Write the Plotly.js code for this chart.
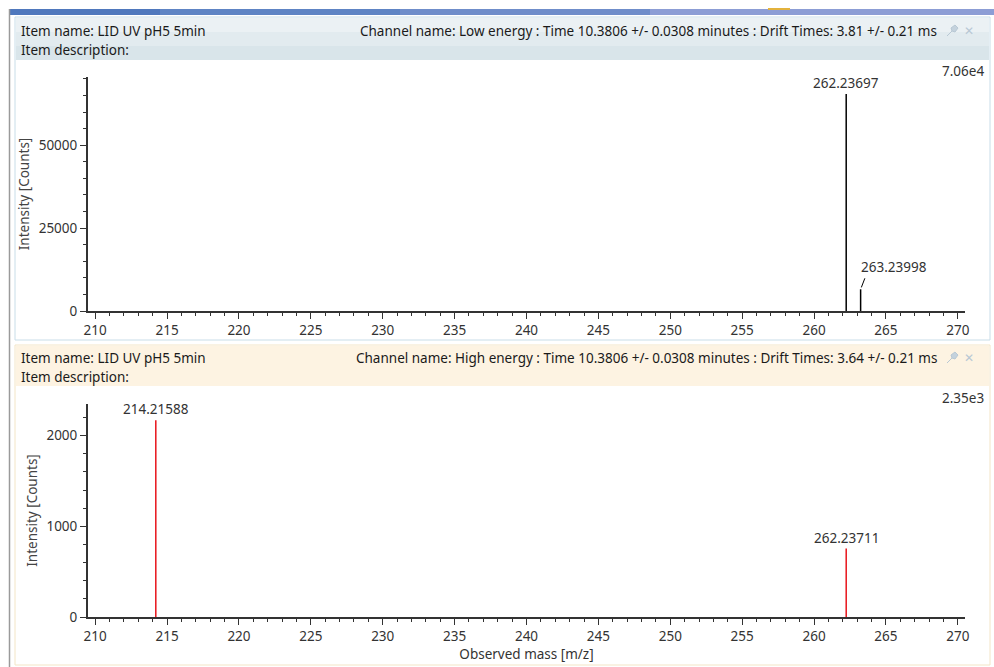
<!DOCTYPE html>
<html>
<head>
<meta charset="utf-8">
<script src="https://cdn.plot.ly/plotly-3.0.1.min.js"></script>
<style>
  html, body { margin: 0; padding: 0; background: #ffffff; }
  #chart { width: 994px; height: 667px; }
</style>
</head>
<body>
<div id="chart"></div>
<script>
// ---- data ----
const itemName = "Item name: LID UV pH5 5min";
const itemDesc = "Item description:";
const lowChannel = "Channel name: Low energy : Time 10.3806 +/- 0.0308 minutes : Drift Times: 3.81 +/- 0.21 ms";
const highChannel = "Channel name: High energy : Time 10.3806 +/- 0.0308 minutes : Drift Times: 3.64 +/- 0.21 ms";

const lowMz = [262.23697, 263.23998];
const lowInt = [65500, 6550];
const lowMax = 70600;

const highMz = [214.21588, 262.23711];
const highInt = [2170, 755];
const highMax = 2350;

const xRange = [209.5, 270.5];
const xTickVals = [210, 215, 220, 225, 230, 235, 240, 245, 250, 255, 260, 265, 270];
const lowTickVals = [0, 25000, 50000];
const highTickVals = [0, 1000, 2000];

const xTitle = "Observed mass [m/z]";
const yTitle = "Intensity [Counts]";

// ---- helpers ----
const W = 994, H = 667;
const px = x => x / W;
const py = y => 1 - y / H;
const FONT = "Noto Sans, Open Sans, sans-serif";
const TXT = "#333333";
const FS = 13.5;

function sci(v) {
  const e = Math.floor(Math.log10(v));
  return (v / Math.pow(10, e)).toFixed(2) + "e" + e;
}
function stems(mz, inten) {
  const xs = [], ys = [];
  mz.forEach((m, i) => { xs.push(m, m, null); ys.push(0, inten[i], null); });
  return { xs, ys };
}

const lowS = stems(lowMz, lowInt);
const highS = stems(highMz, highInt);

const traces = [
  { type: "scatter", mode: "lines", x: lowS.xs, y: lowS.ys, xaxis: "x", yaxis: "y",
    line: { color: "#000000", width: 1.5 }, hoverinfo: "skip", showlegend: false },
  { type: "scatter", mode: "lines", x: highS.xs, y: highS.ys, xaxis: "x2", yaxis: "y2",
    line: { color: "#e8141b", width: 1.5 }, hoverinfo: "skip", showlegend: false }
];

function peakAnnots(mz, inten, xa, ya) {
  const out = [];
  mz.forEach((m, i) => {
    const shadowed = mz.some((m2, j) => j !== i && Math.abs(m2 - m) < 3 && inten[j] > inten[i]);
    const label = m.toFixed(5);
    if (shadowed) {
      out.push({ xref: xa, yref: ya, x: m, y: inten[i], text: label, showarrow: false,
        xanchor: "left", yanchor: "bottom", xshift: -2, yshift: 11,
        font: { family: FONT, size: FS, color: TXT } });
      out.push({ xref: xa, yref: ya, x: m, y: inten[i], text: " ", showarrow: true,
        arrowhead: 0, arrowwidth: 1, arrowcolor: "#000", ax: 5, ay: -13, standoff: 2,
        font: { size: 1 } });
    } else {
      out.push({ xref: xa, yref: ya, x: m, y: inten[i], text: label, showarrow: false,
        xanchor: "center", yanchor: "bottom", yshift: 0,
        font: { family: FONT, size: FS, color: TXT } });
    }
  });
  return out;
}

function axisX(anchor, showTitle) {
  return {
    domain: [px(88), px(965)], anchor: anchor, range: xRange,
    tickmode: "array", tickvals: xTickVals, ticktext: xTickVals.map(String),
    showline: true, linecolor: "#333333", linewidth: 2, mirror: false,
    ticks: "outside", ticklen: 6, tickwidth: 1, tickcolor: "#333333",
    minor: { ticks: "outside", dtick: 1, ticklen: 3, tickwidth: 1, tickcolor: "#333333", showgrid: false },
    showgrid: false, zeroline: false,
    tickfont: { family: FONT, size: FS, color: TXT },
    title: showTitle ? { text: xTitle, font: { family: FONT, size: FS, color: TXT }, standoff: 3 } : { text: "" },
    fixedrange: true
  };
}
function axisY(domain, anchor, max, tickvals, minorStep) {
  return {
    domain: domain, anchor: anchor, range: [0, max],
    tickmode: "array", tickvals: tickvals, ticktext: tickvals.map(String),
    showline: true, linecolor: "#333333", linewidth: 2,
    ticks: "outside", ticklen: 6, tickwidth: 1, tickcolor: "#333333",
    minor: { ticks: "outside", dtick: minorStep, ticklen: 3, tickwidth: 1, tickcolor: "#333333", showgrid: false },
    showgrid: false, zeroline: false,
    tickfont: { family: FONT, size: FS, color: TXT },
    title: { text: yTitle, font: { family: FONT, size: FS, color: "#444444" }, standoff: 6 },
    fixedrange: true
  };
}

const hdrFont = { family: FONT, size: FS, color: "#1a1a1a" };

const annotations = [
  // panel 1 header
  { xref: "paper", yref: "paper", x: px(19), y: py(31), text: itemName, showarrow: false, xanchor: "left", yanchor: "middle", font: hdrFont },
  { xref: "paper", yref: "paper", x: px(19), y: py(50), text: itemDesc, showarrow: false, xanchor: "left", yanchor: "middle", font: hdrFont },
  { xref: "paper", yref: "paper", x: px(939), y: py(31), text: lowChannel, showarrow: false, xanchor: "right", yanchor: "middle", font: hdrFont },
  { xref: "paper", yref: "paper", x: px(969), y: py(31), text: "✕", showarrow: false, xanchor: "center", yanchor: "middle", font: { family: "DejaVu Sans", size: 12, color: "#b8c8d4" } },
  { xref: "paper", yref: "paper", x: px(986), y: py(71), text: sci(lowMax), showarrow: false, xanchor: "right", yanchor: "middle", font: { family: FONT, size: FS, color: TXT } },
  // panel 2 header
  { xref: "paper", yref: "paper", x: px(19), y: py(358), text: itemName, showarrow: false, xanchor: "left", yanchor: "middle", font: hdrFont },
  { xref: "paper", yref: "paper", x: px(19), y: py(377), text: itemDesc, showarrow: false, xanchor: "left", yanchor: "middle", font: hdrFont },
  { xref: "paper", yref: "paper", x: px(939), y: py(358), text: highChannel, showarrow: false, xanchor: "right", yanchor: "middle", font: hdrFont },
  { xref: "paper", yref: "paper", x: px(969), y: py(358), text: "✕", showarrow: false, xanchor: "center", yanchor: "middle", font: { family: "DejaVu Sans", size: 12, color: "#b8c8d4" } },
  { xref: "paper", yref: "paper", x: px(986), y: py(398), text: sci(highMax), showarrow: false, xanchor: "right", yanchor: "middle", font: { family: FONT, size: FS, color: TXT } }
].concat(peakAnnots(lowMz, lowInt, "x", "y"), peakAnnots(highMz, highInt, "x2", "y2"));

function rect(x0, y0, x1, y1, fill, line, lw) {
  return { type: "rect", xref: "paper", yref: "paper", layer: "below",
    x0: px(x0), x1: px(x1), y0: py(y1), y1: py(y0),
    fillcolor: fill, line: { color: line || "rgba(0,0,0,0)", width: lw || 0 } };
}
function pin(cx, cy) {
  return { type: "path", xref: "paper", yref: "paper", layer: "above",
    path: `M ${px(cx-5)} ${py(cy+5)} L ${px(cx)} ${py(cy)} L ${px(cx-1)} ${py(cy-3)} L ${px(cx+3)} ${py(cy-6)} L ${px(cx+6)} ${py(cy-3)} L ${px(cx+3)} ${py(cy+1)} L ${px(cx)} ${py(cy)} Z`,
    fillcolor: "#c4d2dd", line: { color: "#b8c8d4", width: 1 } };
}

const shapes = [
  // top window bar (approximate gradient)
  rect(10, 9, 160, 15, "#4f78bd"),
  rect(160, 9, 400, 15, "#5e84c4"),
  rect(400, 9, 650, 15, "#6f8dca"),
  rect(650, 9, 994, 15, "#8c9dd5"),
  rect(768, 8, 790, 10, "#e3b23c"),
  // left window border
  { type: "line", xref: "paper", yref: "paper", x0: px(9.5), x1: px(9.5), y0: py(667), y1: py(9), line: { color: "#9a9a9a", width: 1.5 } },
  // panel 1
  rect(15, 17, 990, 340, "#ffffff", "#c8dde8", 1),
  rect(16, 18, 989, 32, "#ebf1f4"),
  rect(16, 32, 989, 46, "#e2ebef"),
  rect(16, 46, 989, 60, "#d9e5ea"),
  // panel 2
  rect(15, 345, 990, 665, "#ffffff", "#f3e5c6", 1),
  rect(16, 346, 989, 386, "#fdf3e2"),
  pin(952, 31), pin(952, 358)
];

const layout = {
  width: W, height: H,
  margin: { l: 0, r: 0, t: 0, b: 0 },
  paper_bgcolor: "#ffffff", plot_bgcolor: "rgba(0,0,0,0)",
  showlegend: false,
  xaxis: axisX("y", false),
  yaxis: axisY([py(311), py(77)], "x", lowMax, lowTickVals, 5000),
  xaxis2: axisX("y2", true),
  yaxis2: axisY([py(617), py(404)], "x2", highMax, highTickVals, 200),
  annotations: annotations,
  shapes: shapes,
  font: { family: FONT }
};

Plotly.newPlot("chart", traces, layout, { staticPlot: true, displayModeBar: false });
</script>
</body>
</html>
